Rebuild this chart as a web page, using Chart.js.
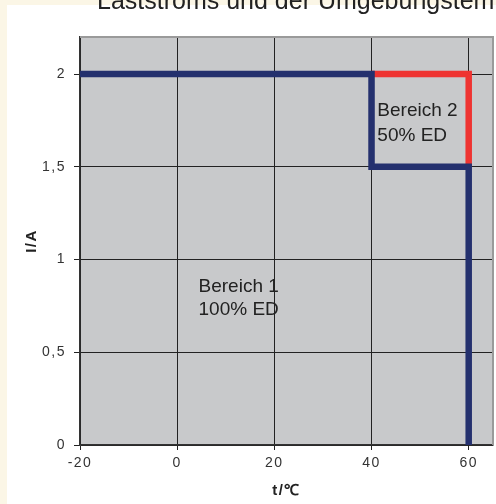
<!DOCTYPE html>
<html>
<head>
<meta charset="utf-8">
<script src="https://cdn.jsdelivr.net/npm/chart.js@4/dist/chart.umd.min.js"></script>
<style>
  html, body { margin: 0; padding: 0; background: #fff; }
  #wrap { width: 496px; height: 504px; }
</style>
</head>
<body>
<div id="wrap"><canvas id="c" width="496" height="504"></canvas></div>
<script>
// Bereich 1 / Bereich 2 boundary
const tempBlue = [-20, 40, 40, 60, 60];
const currentBlue = [2, 2, 1.5, 1.5, 0];
const tempRed = [40, 60, 60];
const currentRed = [2, 2, 1.5];

const xTitle = 't/\u2103';
const yTitle = 'I/A';
const chartTitle = 'Laststroms und der Umgebungstemperatur';
const region1 = ['Bereich 1', '100% ED'];
const region2 = ['Bereich 2', '50% ED'];

const toPoints = (xs, ys) => xs.map((x, i) => ({ x: x, y: ys[i] }));

const frame = {
  id: 'frame',
  beforeDraw(chart) {
    const ctx = chart.ctx;
    const a = chart.chartArea;
    ctx.save();
    // cream page strip + white sheet
    ctx.fillStyle = '#fbf6e6';
    ctx.fillRect(0, 0, chart.width, chart.height);
    ctx.fillStyle = '#ffffff';
    ctx.fillRect(7, 5, chart.width - 7, chart.height - 5);
    // clipped title at the top
    ctx.fillStyle = '#222';
    ctx.font = '25px "Liberation Sans", Arial, sans-serif';
    ctx.textBaseline = 'alphabetic';
    ctx.fillText(chartTitle, 97, 9);
    // plot background
    ctx.fillStyle = '#c8c9cb';
    ctx.fillRect(a.left, a.top, a.right - a.left, a.bottom - a.top);
    ctx.restore();
    ctx.letterSpacing = '1.5px';
  },
  afterDatasetsDraw(chart) {
    const ctx = chart.ctx;
    const a = chart.chartArea;
    const xs = chart.scales.x, ys = chart.scales.y;
    ctx.save();
    ctx.letterSpacing = '0px';
    ctx.strokeStyle = '#9a9a9a';
    ctx.lineWidth = 2;
    ctx.beginPath();
    ctx.moveTo(a.left, a.top);
    ctx.lineTo(a.right, a.top);
    ctx.lineTo(a.right, a.bottom);
    ctx.stroke();
    ctx.fillStyle = '#222';
    ctx.font = '19px "Liberation Sans", Arial, sans-serif';
    ctx.textBaseline = 'middle';
    ctx.fillText(region1[0], xs.getPixelForValue(4.4), ys.getPixelForValue(0.852));
    ctx.fillText(region1[1], xs.getPixelForValue(4.4), ys.getPixelForValue(0.728));
    ctx.fillText(region2[0], xs.getPixelForValue(41.2), ys.getPixelForValue(1.80));
    ctx.fillText(region2[1], xs.getPixelForValue(41.2), ys.getPixelForValue(1.665));
    ctx.restore();
  }
};

new Chart(document.getElementById('c'), {
  type: 'scatter',
  data: {
    datasets: [
      {
        label: 'Bereich 1',
        data: toPoints(tempBlue, currentBlue),
        showLine: true,
        borderColor: '#24306e',
        borderWidth: 6.5,
        borderJoinStyle: 'miter',
        pointRadius: 0,
        fill: false
      },
      {
        label: 'Bereich 2',
        data: toPoints(tempRed, currentRed),
        showLine: true,
        borderColor: '#ee3331',
        borderWidth: 6.5,
        borderJoinStyle: 'miter',
        pointRadius: 0,
        fill: false
      }
    ]
  },
  options: {
    responsive: false,
    animation: false,
    layout: { padding: { top: 37, right: 3, left: 0, bottom: 0 } },
    plugins: {
      legend: { display: false },
      tooltip: { enabled: false },
      title: { display: false }
    },
    scales: {
      x: {
        type: 'linear',
        min: -20,
        max: 65,
        afterFit: (s) => { s.height = 59; },
        ticks: {
          stepSize: 20,
          includeBounds: false,
          padding: 5,
          color: '#333',
          font: { family: '"Liberation Sans", Arial, sans-serif', size: 14 }
        },
        grid: { color: '#222', lineWidth: 1, tickLength: 5 },
        border: { color: '#333', width: 1.5 },
        title: {
          display: true,
          text: xTitle,
          color: '#222',
          padding: { top: 0, bottom: 4 },
          font: { family: '"Liberation Sans", Arial, sans-serif', size: 15, weight: 'bold' }
        }
      },
      y: {
        type: 'linear',
        min: 0,
        max: 2.2,
        afterFit: (s) => { s.width = 80; },
        ticks: {
          stepSize: 0.5,
          includeBounds: false,
          padding: 8,
          color: '#333',
          font: { family: '"Liberation Sans", Arial, sans-serif', size: 14 },
          callback: (v) => String(v).replace('.', ',')
        },
        grid: { color: '#222', lineWidth: 1, tickLength: 6 },
        border: { color: '#333', width: 1.5 },
        title: {
          display: true,
          text: yTitle,
          color: '#222',
          padding: { top: 23, bottom: 0 },
          font: { family: '"Liberation Sans", Arial, sans-serif', size: 15, weight: 'bold' }
        }
      }
    }
  },
  plugins: [frame]
});
</script>
</body>
</html>
